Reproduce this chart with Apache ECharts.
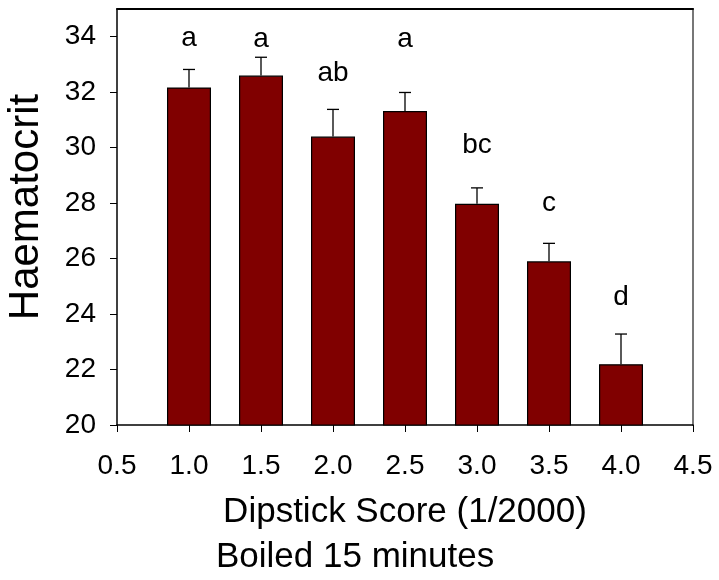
<!DOCTYPE html>
<html>
<head>
<meta charset="utf-8">
<script src="https://cdn.jsdelivr.net/npm/echarts@6/dist/echarts.min.js"></script>
<style>
  html, body { margin: 0; padding: 0; background: #fff; }
  #chart { width: 719px; height: 580px; }
</style>
</head>
<body>
<div id="chart"></div>
<script>
// Dipstick score groups (x positions on a value axis)
const scores = [1.0, 1.5, 2.0, 2.5, 3.0, 3.5, 4.0];
// Mean haematocrit per score group
const means = [32.17, 32.60, 30.40, 31.32, 27.98, 25.90, 22.19];
// Upper error (SE) per group
const errors = [0.65, 0.66, 0.98, 0.67, 0.57, 0.65, 1.09];
// Significance letters and the axis level at which each sits
const letters = ['a', 'a', 'ab', 'a', 'bc', 'c', 'd'];
const letterLevels = [33.95, 33.9, 32.69, 33.9, 30.08, 27.99, 24.59];
// Tick values
const yTicks = [20, 22, 24, 26, 28, 30, 32, 34];

const FONT = '"Liberation Sans", Arial, sans-serif';

const chart = echarts.init(document.getElementById('chart'), null, { renderer: 'canvas' });

const barData = scores.map((s, i) => [s, means[i]]);
const errData = scores.map((s, i) => [s, means[i], means[i] + errors[i]]);
const letterData = scores.map((s, i) => [s, letterLevels[i], letters[i]]);

chart.setOption({
  animation: false,
  backgroundColor: '#fff',
  grid: { left: 117, right: 26, top: 9, bottom: 155, containLabel: false, outerBoundsMode: 'none' },
  title: {
    text: 'Boiled 15 minutes',
    left: 216, top: 540, padding: 0,
    textStyle: { fontFamily: FONT, fontSize: 35, fontWeight: 'normal', color: '#000' }
  },
  xAxis: [{
    type: 'value', min: 0.5, max: 4.5, interval: 0.5,
    name: 'Dipstick Score (1/2000)', nameLocation: 'middle', nameGap: 70,
    nameTextStyle: { fontFamily: FONT, fontSize: 35, color: '#000' },
    axisLine: { lineStyle: { color: '#000', width: 1.5 } },
    axisTick: { show: true, inside: false, length: 7, lineStyle: { color: '#000', width: 1 } },
    axisLabel: {
      margin: 27, fontFamily: FONT, fontSize: 28, color: '#000',
      formatter: v => v.toFixed(1)
    },
    splitLine: { show: false }
  }, {
    type: 'value', min: 0.5, max: 4.5, position: 'top',
    axisLine: { show: true, lineStyle: { color: '#000', width: 2 } },
    axisTick: { show: false }, axisLabel: { show: false }, splitLine: { show: false }
  }],
  yAxis: [{
    type: 'value', min: 20, max: 35,
    name: 'Haematocrit', nameLocation: 'middle', nameGap: 70, nameRotate: 90,
    nameTextStyle: { fontFamily: FONT, fontSize: 42, color: '#000', padding: [0, 0, 0, 20] },
    axisLine: { show: true, lineStyle: { color: '#000', width: 1.5 } },
    axisTick: { show: true, inside: false, length: 7, customValues: yTicks, lineStyle: { color: '#000', width: 1 } },
    axisLabel: { margin: 21, fontFamily: FONT, fontSize: 28, color: '#000', customValues: yTicks },
    splitLine: { show: false }
  }, {
    type: 'value', min: 20, max: 35, position: 'right',
    axisLine: { show: true, lineStyle: { color: '#777', width: 2 } },
    axisTick: { show: false }, axisLabel: { show: false }, splitLine: { show: false }
  }],
  series: [{
    type: 'bar',
    data: barData,
    barWidth: 44,
    itemStyle: { color: '#800000', borderColor: '#000', borderWidth: 1.2 },
    z: 2
  }, {
    type: 'custom',
    data: errData,
    renderItem: function (params, api) {
      const base = api.coord([api.value(0), api.value(1)]);
      const top = api.coord([api.value(0), api.value(2)]);
      const half = 6;
      return {
        type: 'group',
        children: [{
          type: 'line',
          shape: { x1: base[0], y1: base[1], x2: top[0], y2: top[1] },
          style: { stroke: '#000', lineWidth: 1.3 }
        }, {
          type: 'line',
          shape: { x1: top[0] - half, y1: top[1], x2: top[0] + half, y2: top[1] },
          style: { stroke: '#000', lineWidth: 1.3 }
        }]
      };
    },
    z: 3
  }, {
    type: 'scatter',
    data: letterData,
    symbolSize: 0,
    itemStyle: { opacity: 1 },
    label: {
      show: true, position: 'inside',
      formatter: p => p.data[2],
      fontFamily: FONT, fontSize: 28, color: '#000'
    },
    z: 4
  }]
});
</script>
</body>
</html>
